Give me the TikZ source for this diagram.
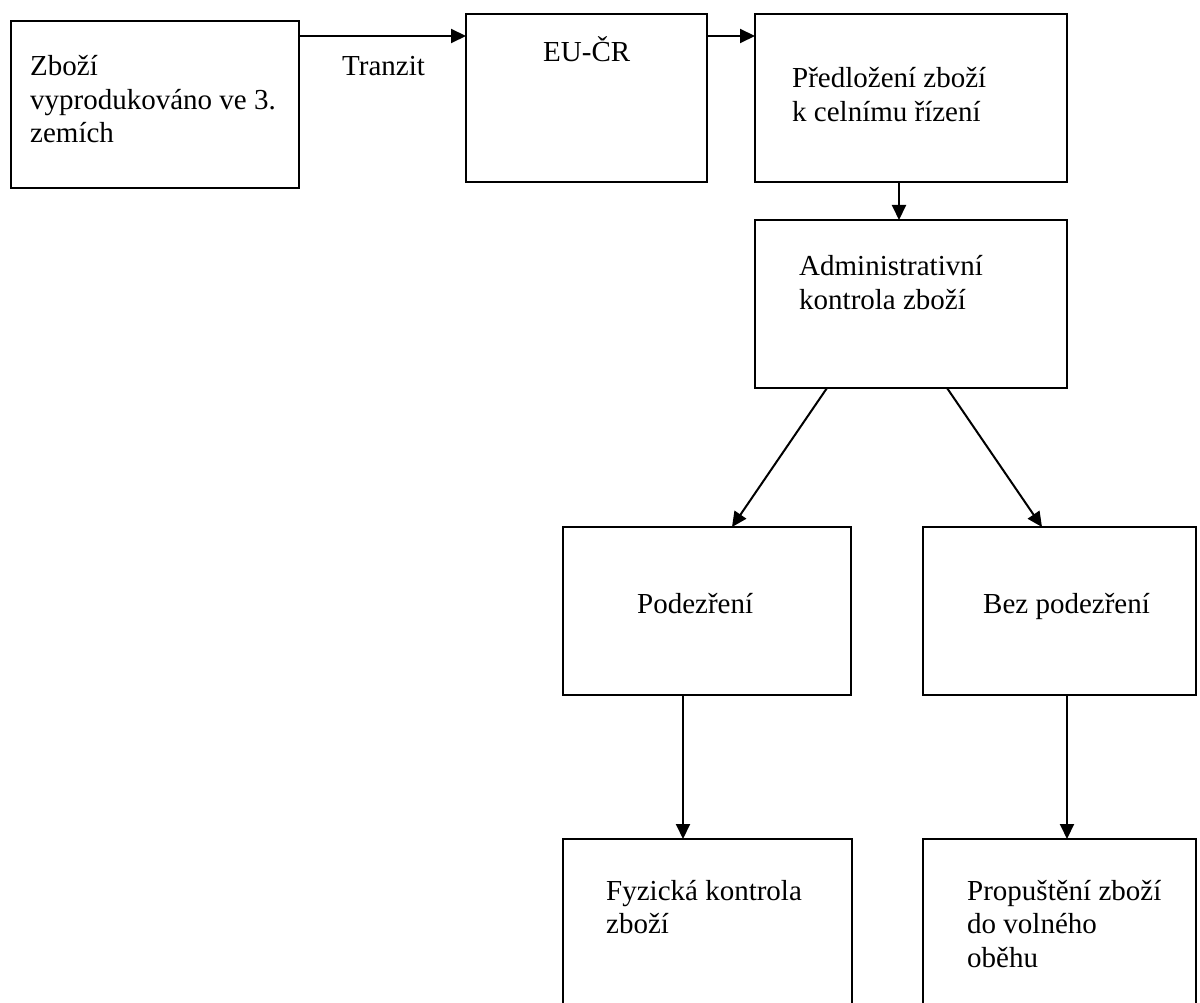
\documentclass[tikz,border=0pt]{standalone}
\usepackage{fontspec}
\setmainfont{Liberation Serif}
\usetikzlibrary{arrows.meta}
\newcommand{\mytb}[1]{\begin{tabular}[t]{@{}l@{}}#1\end{tabular}}
\begin{document}
\begin{tikzpicture}[x=1pt,y=-1pt,
  box/.style={draw, line width=2pt, rectangle, inner sep=0pt, outer sep=0pt, anchor=north west},
  openbox/.style={draw=none, rectangle, inner sep=0pt, outer sep=0pt, anchor=north west},
  txt/.style={anchor=base west, inner sep=0pt, font=\fontsize{29pt}{33.5pt}\selectfont},
  arr/.style={-{Triangle[length=15pt,width=14pt]}, line width=2pt},
  side/.style={line width=2pt}]
\useasboundingbox (0,0) rectangle (1200,1003);
\clip (0,0) rectangle (1200,1003);
% boxes
\node[box, minimum width=288pt, minimum height=167pt] (b1) at (11,21) {};
\node[box, minimum width=241pt, minimum height=168pt] (b2) at (466,14) {};
\node[box, minimum width=312pt, minimum height=168pt] (b3) at (755,14) {};
\node[box, minimum width=312pt, minimum height=168pt] (b4) at (755,220) {};
\node[box, minimum width=288pt, minimum height=168pt] (b5) at (563,527) {};
\node[box, minimum width=273pt, minimum height=168pt] (b6) at (923,527) {};
\node[openbox, minimum width=289pt, minimum height=180pt] (b7) at (563,839) {};
\node[openbox, minimum width=273pt, minimum height=180pt] (b8) at (923,839) {};
\draw[side] (b7.south west) -- (b7.north west) -- (b7.north east) -- (b7.south east);
\draw[side] (b8.south west) -- (b8.north west) -- (b8.north east) -- (b8.south east);
% texts
\node[txt] (t1) at (30,76) {\mytb{Zboží\\ vyprodukováno ve 3.\\ zemích}};
\node[txt] (tr) at (342,76) {Tranzit};
\node[txt] (t2) at (543,62) {EU-ČR};
\node[txt] (t3) at (792,88) {\mytb{Předložení zboží\\ k celnímu řízení}};
\node[txt] (t4) at (799,276) {\mytb{Administrativní\\ kontrola zboží}};
\node[txt] (t5) at (637,613) {Podezření};
\node[txt] (t6) at (983,613) {Bez podezření};
\node[txt] (t7) at (606,900) {\mytb{Fyzická kontrola\\ zboží}};
\node[txt] (t8) at (967,900) {\mytb{Propuštění zboží\\ do volného\\ oběhu}};
% connectors
\draw[arr] ([yshift=-15pt]b1.north east) -- ([yshift=-22pt]b2.north west);
\draw[arr] ([yshift=-22pt]b2.north east) -- ([yshift=-22pt]b3.north west);
\draw[arr] ([xshift=144pt]b3.south west) -- ([xshift=144pt]b4.north west);
\draw[arr] ([xshift=72pt]b4.south west) -- ([xshift=169pt]b5.north west);
\draw[arr] ([xshift=192pt]b4.south west) -- ([xshift=119pt]b6.north west);
\draw[arr] ([xshift=120pt]b5.south west) -- ([xshift=120pt]b7.north west);
\draw[arr] ([xshift=144pt]b6.south west) -- ([xshift=144pt]b8.north west);
\end{tikzpicture}
\end{document}
